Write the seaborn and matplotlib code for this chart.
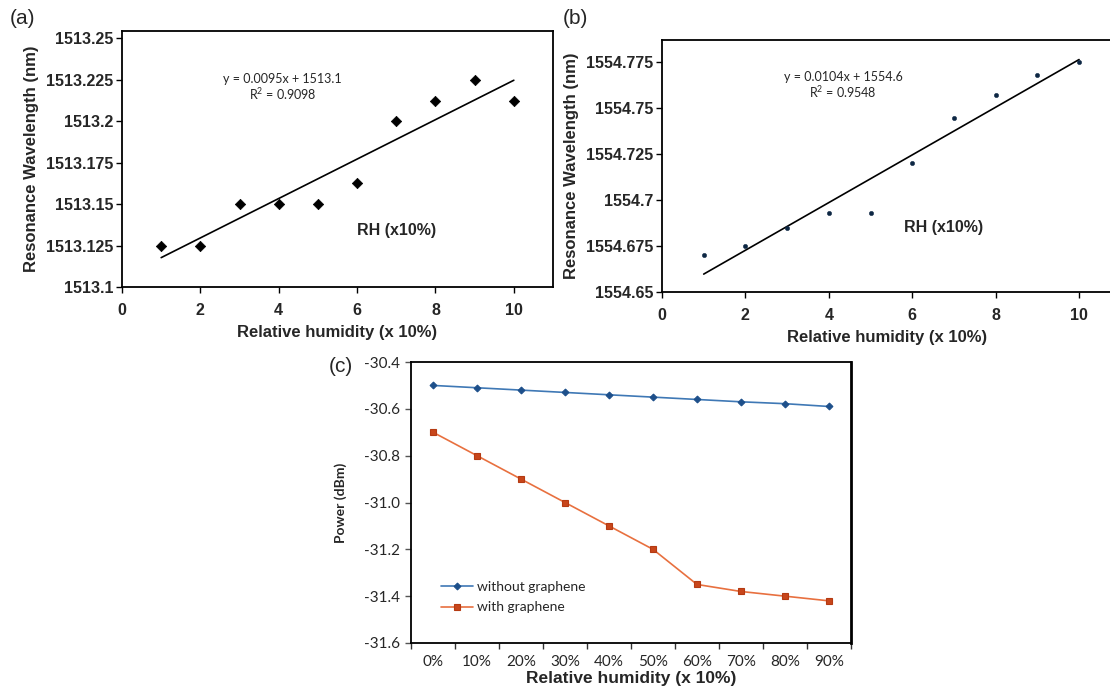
import numpy as np
import pandas as pd
import matplotlib
matplotlib.use("Agg")
import matplotlib.pyplot as plt
import seaborn as sns

# ---------------- data ----------------
rh_a = [1, 2, 3, 4, 5, 6, 7, 8, 9, 10]
wl_a = [1513.125, 1513.125, 1513.150, 1513.150, 1513.150,
        1513.1625, 1513.200, 1513.2125, 1513.225, 1513.2125]
yticks_a = [1513.1, 1513.125, 1513.15, 1513.175, 1513.2, 1513.225, 1513.25]
ytick_labels_a = ["1513.1", "1513.125", "1513.15", "1513.175", "1513.2", "1513.225", "1513.25"]
eq_a = "y = 0.0095x + 1513.1\nR$^2$ = 0.9098"

rh_b = [1, 2, 3, 4, 5, 6, 7, 8, 9, 10]
wl_b = [1554.670, 1554.675, 1554.685, 1554.693, 1554.693,
        1554.720, 1554.745, 1554.7575, 1554.768, 1554.775]
yticks_b = [1554.65, 1554.675, 1554.7, 1554.725, 1554.75, 1554.775]
ytick_labels_b = ["1554.65", "1554.675", "1554.7", "1554.725", "1554.75", "1554.775"]
eq_b = "y = 0.0104x + 1554.6\nR$^2$ = 0.9548"

xticks_ab = [0, 2, 4, 6, 8, 10]

rh_c = ["0%", "10%", "20%", "30%", "40%", "50%", "60%", "70%", "80%", "90%"]
p_without = [-30.500, -30.510, -30.520, -30.530, -30.540,
             -30.550, -30.560, -30.570, -30.578, -30.590]
p_with = [-30.70, -30.80, -30.90, -31.00, -31.10,
          -31.20, -31.35, -31.38, -31.40, -31.42]
yticks_c = [-31.6, -31.4, -31.2, -31.0, -30.8, -30.6, -30.4]
ytick_labels_c = ["-31.6", "-31.4", "-31.2", "-31.0", "-30.8", "-30.6", "-30.4"]
series_names = ["without graphene", "with graphene"]

# ---------------- style ----------------
sns.set_theme(style="white")
plt.rcParams["font.family"] = ["Liberation Sans", "DejaVu Sans"]
plt.rcParams["mathtext.fontset"] = "custom"
plt.rcParams["mathtext.rm"] = "Lato"

W, H = 1110, 689
fig = plt.figure(figsize=(W / 100, H / 100), dpi=100)
fig.patch.set_facecolor("white")


def px_axes(l, t, r, b):
    return fig.add_axes([l / W, 1 - b / H, (r - l) / W, (b - t) / H])


BOLD = dict(family="Liberation Sans", weight="bold")


def style_ab(ax, yticks, ylabels, ylim, xlim):
    ax.set_xlim(*xlim)
    ax.set_ylim(*ylim)
    ax.set_xticks(xticks_ab)
    ax.set_xticklabels([str(v) for v in xticks_ab], fontsize=11.5, **BOLD)
    ax.set_yticks(yticks)
    ax.set_yticklabels(ylabels, fontsize=11.5, **BOLD)
    ax.tick_params(axis="x", direction="out", length=4, width=1.0,
                   color="black", pad=7.5, bottom=True)
    ax.tick_params(axis="y", direction="out", length=4, width=1.0,
                   color="black", pad=2, left=True)
    for s in ax.spines.values():
        s.set_color("black")
        s.set_linewidth(1.3)
    ax.set_xlabel("Relative humidity (x 10%)", fontsize=12, labelpad=5, **BOLD)
    ax.set_ylabel("Resonance Wavelength (nm)", fontsize=12, labelpad=5, **BOLD)


# ---------------- panel (a) ----------------
ax_a = px_axes(122, 31, 553, 287)
sns.regplot(x=rh_a, y=wl_a, ax=ax_a, ci=None, scatter=False, color="black",
            line_kws=dict(lw=1.2))
sns.scatterplot(x=rh_a, y=wl_a, ax=ax_a, marker="D", s=28, color="black",
                edgecolor="black", linewidth=0.5, zorder=5)
style_ab(ax_a, yticks_a, ytick_labels_a, (1513.1, 1513.2545), (0, 11))
ax_a.text(4.1, 1513.2205, eq_a, ha="center", va="center", fontsize=9,
          family="Lato", linespacing=1.1)
ax_a.text(7.0, 1513.134, "RH (x10%)", ha="center", va="center", fontsize=11.5, **BOLD)

# ---------------- panel (b) ----------------
ax_b = px_axes(662, 40, 1112, 292)
sns.regplot(x=rh_b, y=wl_b, ax=ax_b, ci=None, scatter=False, color="black",
            line_kws=dict(lw=1.2))
sns.scatterplot(x=rh_b, y=wl_b, ax=ax_b, marker="o", s=10, color="#0d2744",
                edgecolor="#0d2744", linewidth=0.3, zorder=5)
style_ab(ax_b, yticks_b, ytick_labels_b, (1554.65, 1554.7872), (0, 10.79))
ax_b.text(4.34, 1554.7625, eq_b, ha="center", va="center", fontsize=9,
          family="Lato", linespacing=1.1)
ax_b.text(6.76, 1554.685, "RH (x10%)", ha="center", va="center", fontsize=11.5, **BOLD)

# ---------------- panel (c) ----------------
ax_c = px_axes(411, 362, 851, 643)
sns.lineplot(x=rh_c, y=p_without, ax=ax_c, sort=False, color="#3f78b5", lw=1.2,
             marker="D", markersize=3.5, markerfacecolor="#1d4f8a",
             markeredgecolor="#1d4f8a", label=series_names[0])
sns.lineplot(x=rh_c, y=p_with, ax=ax_c, sort=False, color="#e8703f", lw=1.2,
             marker="s", markersize=5, markerfacecolor="#c8461b",
             markeredgecolor="#b53a12", markeredgewidth=0.8, label=series_names[1])
ax_c.set_xlim(-0.5, 9.5)
ax_c.set_ylim(-31.6, -30.4)
ax_c.set_xticks(range(len(rh_c)))
ax_c.set_xticklabels(rh_c, fontsize=11, family="Lato")
ax_c.set_xticks(np.arange(-0.5, len(rh_c), 1.0), minor=True)
ax_c.tick_params(axis="x", which="major", length=0, pad=9)
ax_c.tick_params(axis="x", which="minor", length=4, width=1.0, color="#333333",
                 direction="out", bottom=True)
ax_c.set_yticks(yticks_c)
ax_c.set_yticklabels(ytick_labels_c, fontsize=11, family="Lato")
ax_c.tick_params(axis="y", length=4, width=1.0, color="#555555", direction="out",
                 left=True, pad=4)
for name, s in ax_c.spines.items():
    s.set_color("black")
    s.set_linewidth(1.3)
ax_c.spines["right"].set_linewidth(2.0)
ax_c.set_xlabel("Relative humidity (x 10%)", fontsize=12.5, labelpad=1, **BOLD)
ax_c.set_ylabel("Power (dBm)", fontsize=10, family="Lato", weight="bold", labelpad=12)
leg = ax_c.legend(loc="upper left", bbox_to_anchor=(0.04, 0.265), frameon=False,
                  handlelength=2.3, handletextpad=0.3, labelspacing=0.6,
                  prop=dict(family="Lato", size=10))

# ---------------- panel labels ----------------
fig.text(10 / W, 1 - 18 / H, "(a)", fontsize=15, va="center", ha="left", family="Liberation Sans")
fig.text(563 / W, 1 - 18 / H, "(b)", fontsize=15, va="center", ha="left", family="Liberation Sans")
fig.text(329 / W, 1 - 366 / H, "(c)", fontsize=15, va="center", ha="left", family="Liberation Sans")

fig.savefig("out.png", dpi=100, facecolor="white")
